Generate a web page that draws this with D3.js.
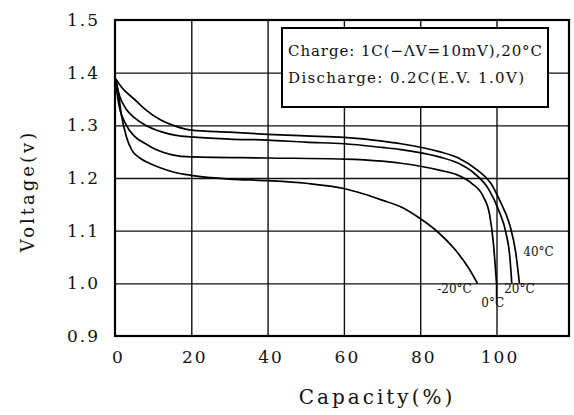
<!DOCTYPE html>
<html>
<head>
<meta charset="utf-8">
<script src="https://cdn.jsdelivr.net/npm/d3@7/dist/d3.min.js"></script>
<style>
  body { margin: 0; background: #fff; }
  svg { display: block; }
  .tick text { font-family: "DejaVu Serif", serif; fill: #111; }
</style>
</head>
<body>
<div id="chart"></div>
<script>
// discharge curves, [capacity %, voltage V]
let curve40 = [[0,1.39],[2,1.37],[5,1.35],[8,1.33],[12,1.31],[16,1.298],[20,1.291],[30,1.287],[40,1.283],[50,1.28],[60,1.277],[70,1.27],[75,1.265],[85,1.25],[90,1.238],[95,1.215],[98.5,1.19],[101,1.155],[103.5,1.11],[105,1.06],[106,1.0]]
let curve20 = [[0,1.39],[1,1.36],[3,1.33],[5,1.315],[8,1.30],[12,1.288],[16,1.281],[20,1.278],[30,1.274],[40,1.272],[50,1.268],[60,1.265],[70,1.258],[75,1.254],[85,1.24],[90,1.228],[94,1.21],[98,1.178],[100.5,1.14],[102.5,1.095],[103.5,1.05],[104,1.0]]
let curve0 = [[0,1.39],[1,1.34],[3,1.30],[5,1.28],[8,1.265],[11,1.253],[15,1.244],[20,1.24],[40,1.238],[60,1.236],[70,1.232],[75,1.228],[85,1.215],[90,1.205],[93.5,1.19],[96.5,1.165],[98.2,1.13],[99.2,1.075],[100,1.0]]
let curveM20 = [[0,1.39],[0.8,1.367],[1.6,1.323],[3,1.278],[4.4,1.253],[6.5,1.238],[9,1.228],[12,1.219],[16,1.21],[20,1.205],[30,1.198],[40,1.195],[50,1.19],[60,1.18],[65,1.17],[70,1.158],[75,1.145],[79.4,1.126],[84.7,1.097],[88.9,1.066],[92.6,1.03],[95,1.0]]

let xTicks = [0,20,40,60,80,100]
let yTicks = [0.9,1.0,1.1,1.2,1.3,1.4,1.5]
let tempLabels = ['-20°C','0°C','20°C','40°C']
let legendLines = ['Charge:  1C(−ΛV=10mV),20°C','Discharge:  0.2C(E.V.  1.0V)']

let W = 574, H = 415
let svg = d3.select('#chart').append('svg').attr('width',W).attr('height',H)

let x = d3.scaleLinear().domain([0,119]).range([115,569])
let y = d3.scaleLinear().domain([0.9,1.5]).range([336,20])

// grid
let gx = svg.append('g')
            .attr('transform','translate(0,'+y(0.9)+')')
            .call(d3.axisBottom(x).tickValues(xTicks.slice(1)).tickSize(-(y(0.9)-y(1.5))).tickFormat(''))
gx.select('.domain').remove()
gx.selectAll('line').attr('stroke','#111').attr('stroke-width',1.4)

let gy = svg.append('g')
            .attr('transform','translate('+x(0)+',0)')
            .call(d3.axisLeft(y).tickValues(yTicks.slice(1,-1)).tickSize(-(x(119)-x(0))).tickFormat(''))
gy.select('.domain').remove()
gy.selectAll('line').attr('stroke','#111').attr('stroke-width',1.4)

// frame
svg.append('rect')
   .attr('x',x(0)).attr('y',y(1.5))
   .attr('width',x(119)-x(0)).attr('height',y(0.9)-y(1.5))
   .attr('fill','none').attr('stroke','#000').attr('stroke-width',2.2)

// tick labels
let ax = svg.append('g')
            .attr('transform','translate(0,'+(y(0.9)+12)+')')
            .call(d3.axisBottom(x).tickValues(xTicks).tickSize(0).tickFormat(d=>d))
ax.select('.domain').remove()
ax.selectAll('text').attr('font-size',17).attr('letter-spacing',2).attr('dx',3)

let ay = svg.append('g')
            .attr('transform','translate('+(x(0)-12)+',0)')
            .call(d3.axisLeft(y).tickValues(yTicks).tickSize(0).tickFormat(d3.format('.1f')))
ay.select('.domain').remove()
ay.selectAll('text').attr('font-size',17).attr('letter-spacing',2)

// curves
let line = d3.line()
             .x(d=>x(d[0]))
             .y(d=>y(d[1]))
             .curve(d3.curveMonotoneX)

svg.append('g')
   .selectAll('path')
   .data([curveM20,curve0,curve20,curve40])
   .enter()
   .append('path')
   .attr('d',line)
   .attr('fill','none')
   .attr('stroke','#000')
   .attr('stroke-width',1.7)

// temperature labels
let labelPos = [[89,1.0,0.023],[99,1.0,-0.045],[106,1.0,0.023],[111,1.07,0]]
svg.append('g')
   .selectAll('text')
   .data(tempLabels)
   .enter()
   .append('text')
   .attr('x',(d,i)=>x(labelPos[i][0]))
   .attr('y',(d,i)=>y(labelPos[i][1]) + 10 + (labelPos[i][2]<0 ? 14 : 0))
   .attr('text-anchor','middle')
   .attr('font-family','DejaVu Serif, serif')
   .attr('font-size',12)
   .attr('fill','#111')
   .text(d=>d)

// pointer under 0°C
svg.append('line')
   .attr('x1',x(100)).attr('x2',x(100))
   .attr('y1',y(1.0)).attr('y2',y(1.0)+16)
   .attr('stroke','#000').attr('stroke-width',1.5)

// legend box
let lg = svg.append('g')
lg.append('rect')
  .attr('x',282).attr('y',28).attr('width',266).attr('height',79)
  .attr('fill','#fff').attr('stroke','#000').attr('stroke-width',2)
lg.selectAll('text')
  .data(legendLines)
  .enter()
  .append('text')
  .attr('x',288)
  .attr('y',(d,i)=>56+i*27)
  .attr('font-family','DejaVu Serif, serif')
  .attr('font-size',15)
  .attr('fill','#111')
  .attr('textLength',(d,i)=>i==0?254:236)
  .attr('lengthAdjust','spacing')
  .text(d=>d)

// axis titles
svg.append('text')
   .attr('x',377).attr('y',404)
   .attr('text-anchor','middle')
   .attr('font-family','DejaVu Serif, serif')
   .attr('font-size',20)
   .attr('letter-spacing',3)
   .attr('fill','#111')
   .text('Capacity(%)')

svg.append('text')
   .attr('transform','translate(34,191) rotate(-90)')
   .attr('text-anchor','middle')
   .attr('font-family','DejaVu Serif, serif')
   .attr('font-size',18)
   .attr('letter-spacing',3)
   .attr('fill','#111')
   .text('Voltage(v)')
</script>
</body>
</html>
